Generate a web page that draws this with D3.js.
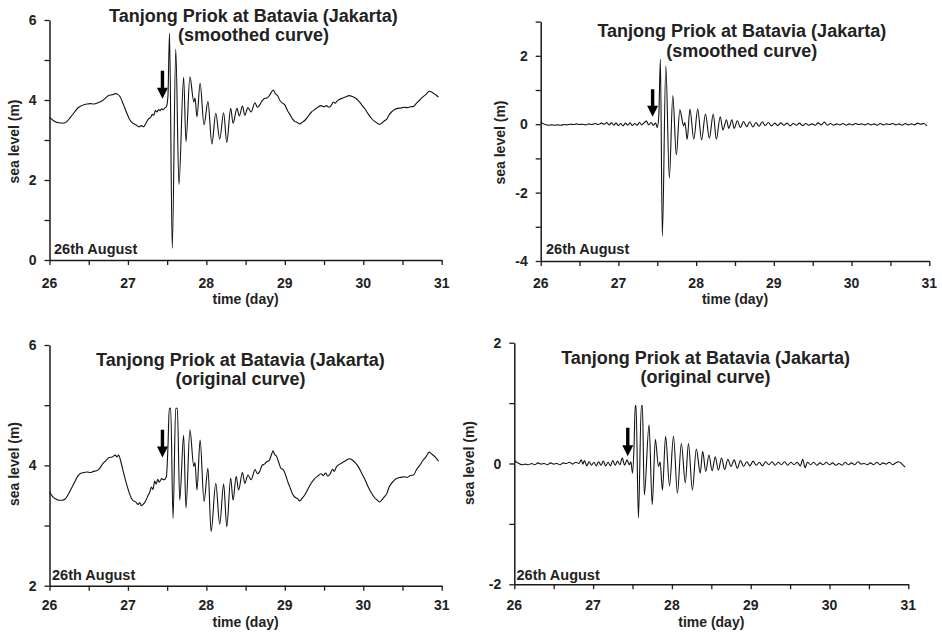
<!DOCTYPE html>
<html>
<head>
<meta charset="utf-8">
<script src="https://cdn.jsdelivr.net/npm/d3@7"></script>
<style>
  body { margin: 0; background: #fff; }
  svg text { font-family: "Liberation Sans", Arial, sans-serif; font-weight: bold; fill: #222; }
</style>
</head>
<body>
<svg id="chart" width="942" height="632"></svg>
<script>
// Tide-gauge record, Tanjong Priok (Batavia), 26–31 August: [day, sea level in m]

// Smoothed curve, absolute sea level
const smoothedLevel = [
  [26.00,3.57],[26.04,3.50],[26.08,3.45],[26.12,3.43],[26.16,3.42],[26.20,3.43],[26.24,3.50],[26.28,3.60],
  [26.32,3.70],[26.36,3.80],[26.40,3.85],[26.44,3.88],[26.48,3.90],[26.52,3.91],[26.56,3.90],[26.60,3.92],
  [26.64,3.95],[26.68,3.99],[26.72,4.06],[26.76,4.12],[26.80,4.13],[26.84,4.16],[26.87,4.14],[26.90,4.08],
  [26.94,3.90],[26.98,3.70],[27.02,3.52],[27.06,3.42],[27.10,3.38],[27.14,3.33],[27.17,3.36],[27.20,3.33],
  [27.23,3.42],[27.26,3.52],[27.29,3.57],[27.31,3.64],[27.33,3.62],[27.35,3.74],[27.37,3.70],[27.39,3.76],
  [27.41,3.73],[27.43,3.78],[27.45,3.76],[27.47,3.80],[27.49,3.83],[27.51,4.10],[27.53,5.67],[27.565,0.29],
  [27.61,5.27],[27.65,1.89],[27.71,4.57],[27.74,2.96],[27.79,4.58],[27.84,3.95],[27.855,4.05],[27.88,3.58],
  [27.92,4.42],[27.97,3.38],[28.02,3.96],[28.07,2.90],[28.12,3.67],[28.17,3.02],[28.22,3.68],[28.26,2.94],
  [28.31,3.79],[28.34,3.42],[28.39,3.79],[28.42,3.60],[28.46,3.85],[28.49,3.62],[28.53,3.81],[28.57,3.70],
  [28.62,3.93],[28.65,3.82],[28.68,3.88],[28.71,3.98],[28.74,4.04],[28.77,4.05],[28.80,4.10],[28.83,4.20],
  [28.85,4.25],[28.88,4.16],[28.91,4.10],[28.94,3.98],[28.97,3.92],[29.00,3.88],[29.03,3.75],[29.07,3.62],
  [29.10,3.52],[29.13,3.46],[29.16,3.44],[29.19,3.40],[29.22,3.44],[29.26,3.50],[29.30,3.60],[29.34,3.70],
  [29.38,3.76],[29.42,3.82],[29.46,3.86],[29.50,3.83],[29.53,3.86],[29.56,3.82],[29.59,3.86],[29.62,3.95],
  [29.64,3.92],[29.67,3.98],[29.70,4.02],[29.74,4.05],[29.78,4.08],[29.82,4.11],[29.86,4.09],[29.90,4.05],
  [29.94,3.98],[29.98,3.88],[30.02,3.78],[30.06,3.66],[30.10,3.55],[30.14,3.47],[30.18,3.42],[30.21,3.39],
  [30.24,3.43],[30.27,3.48],[30.30,3.52],[30.33,3.63],[30.36,3.70],[30.40,3.76],[30.44,3.79],[30.48,3.80],
  [30.52,3.82],[30.56,3.81],[30.60,3.83],[30.64,3.84],[30.68,3.92],[30.72,4.00],[30.76,4.08],[30.80,4.14],
  [30.84,4.22],[30.87,4.20],[30.90,4.16],[30.93,4.12],[30.96,4.07]
];

// Smoothed curve, residual after removing the tide
const smoothedResidual = [
  [26.00,0.05],[26.03,0.02],[26.06,-0.01],[26.10,-0.03],[26.14,-0.02],[26.18,-0.03],[26.22,-0.02],[26.26,-0.03],
  [26.30,-0.01],[26.34,-0.02],[26.38,0.00],[26.42,-0.01],[26.46,0.01],[26.50,-0.01],[26.54,0.00],[26.58,-0.02],
  [26.62,0.01],[26.66,-0.01],[26.70,0.02],[26.74,-0.01],[26.78,0.03],[26.82,0.00],[26.85,0.05],[26.88,-0.02],
  [26.91,0.04],[26.94,-0.03],[26.97,0.03],[27.00,-0.04],[27.03,0.02],[27.06,-0.05],[27.09,0.03],[27.12,-0.03],
  [27.15,0.04],[27.18,-0.04],[27.21,0.02],[27.24,-0.03],[27.27,0.05],[27.30,-0.02],[27.33,0.04],[27.36,0.09],
  [27.39,-0.02],[27.42,0.05],[27.45,-0.03],[27.48,0.03],[27.50,-0.10],[27.52,0.27],[27.54,1.90],[27.565,-3.27],
  [27.61,1.71],[27.655,-1.58],[27.70,0.84],[27.745,-0.90],[27.79,0.42],[27.84,-0.05],[27.855,0.05],[27.885,-0.44],
  [27.92,0.44],[27.97,-0.44],[28.02,0.44],[28.07,-0.46],[28.12,0.30],[28.17,-0.41],[28.22,0.30],[28.26,-0.44],
  [28.31,0.22],[28.345,-0.17],[28.39,0.13],[28.42,-0.12],[28.46,0.13],[28.49,-0.12],[28.53,0.10],[28.57,-0.10],
  [28.61,0.08],[28.65,-0.07],[28.69,0.07],[28.73,-0.08],[28.77,0.05],[28.81,-0.06],[28.85,0.07],[28.89,-0.04],
  [28.93,0.05],[28.97,-0.05],[29.01,0.03],[29.05,-0.04],[29.09,0.04],[29.13,-0.03],[29.17,0.03],[29.21,-0.05],
  [29.25,0.02],[29.29,-0.03],[29.33,0.03],[29.37,-0.04],[29.41,0.02],[29.45,-0.03],[29.49,0.01],[29.53,-0.03],
  [29.57,0.04],[29.61,-0.02],[29.65,0.06],[29.69,-0.03],[29.73,0.02],[29.77,-0.03],[29.81,0.01],[29.85,-0.02],
  [29.89,0.02],[29.93,-0.03],[29.97,0.01],[30.01,-0.02],[30.05,0.02],[30.09,-0.01],[30.13,0.01],[30.17,-0.02],
  [30.21,0.02],[30.25,-0.02],[30.29,0.01],[30.33,-0.03],[30.37,0.02],[30.41,-0.02],[30.45,0.01],[30.49,-0.01],
  [30.53,0.02],[30.57,-0.02],[30.61,0.01],[30.65,-0.03],[30.69,0.02],[30.73,-0.02],[30.77,0.01],[30.81,-0.02],
  [30.85,0.03],[30.89,0.00],[30.93,0.02],[30.97,-0.05]
];

// Original curve, absolute sea level (gauge tops out near 4.95 m)
const originalLevel = [
  [26.00,3.56],[26.04,3.48],[26.08,3.44],[26.12,3.42],[26.16,3.42],[26.20,3.44],[26.24,3.52],[26.28,3.62],
  [26.32,3.72],[26.36,3.82],[26.40,3.87],[26.44,3.88],[26.48,3.89],[26.52,3.88],[26.56,3.90],[26.60,3.91],
  [26.64,3.95],[26.68,4.03],[26.72,4.08],[26.76,4.13],[26.80,4.14],[26.84,4.17],[26.86,4.14],[26.88,4.17],
  [26.91,4.06],[26.94,3.90],[26.98,3.70],[27.02,3.53],[27.06,3.42],[27.10,3.39],[27.13,3.35],[27.15,3.38],
  [27.17,3.33],[27.20,3.36],[27.23,3.42],[27.26,3.51],[27.28,3.56],[27.30,3.64],[27.32,3.60],[27.34,3.74],
  [27.36,3.69],[27.38,3.77],[27.40,3.72],[27.43,3.78],[27.46,3.76],[27.49,3.81],[27.51,4.30],[27.527,4.95],
  [27.545,4.95],[27.575,3.12],[27.609,4.95],[27.63,4.95],[27.66,3.42],[27.71,4.50],[27.74,3.29],[27.79,4.59],
  [27.84,3.98],[27.855,4.05],[27.88,3.59],[27.92,4.42],[27.97,3.40],[28.02,3.95],[28.06,2.90],[28.12,3.70],
  [28.17,3.02],[28.22,3.69],[28.26,2.98],[28.31,3.79],[28.34,3.42],[28.38,3.82],[28.41,3.59],[28.46,3.88],
  [28.49,3.70],[28.53,3.84],[28.57,3.76],[28.62,3.93],[28.65,3.86],[28.68,3.90],[28.71,4.00],[28.74,4.02],
  [28.77,4.06],[28.80,4.08],[28.83,4.18],[28.85,4.24],[28.87,4.18],[28.89,4.16],[28.92,4.06],[28.95,3.95],
  [28.98,3.93],[29.01,3.84],[29.04,3.72],[29.07,3.62],[29.10,3.52],[29.13,3.47],[29.16,3.45],[29.19,3.41],
  [29.22,3.45],[29.26,3.52],[29.30,3.62],[29.34,3.71],[29.38,3.78],[29.42,3.82],[29.46,3.86],[29.49,3.83],
  [29.52,3.87],[29.55,3.82],[29.58,3.86],[29.61,3.94],[29.63,3.90],[29.66,3.98],[29.70,4.02],[29.74,4.05],
  [29.78,4.08],[29.82,4.11],[29.86,4.09],[29.90,4.04],[29.94,3.97],[29.98,3.87],[30.02,3.77],[30.06,3.65],
  [30.10,3.55],[30.14,3.47],[30.18,3.42],[30.21,3.39],[30.24,3.43],[30.27,3.48],[30.30,3.53],[30.33,3.64],
  [30.36,3.70],[30.40,3.76],[30.44,3.79],[30.48,3.80],[30.52,3.81],[30.56,3.80],[30.60,3.83],[30.64,3.84],
  [30.68,3.93],[30.72,4.00],[30.76,4.08],[30.80,4.14],[30.84,4.22],[30.87,4.19],[30.90,4.16],[30.93,4.12],
  [30.96,4.07]
];

// Original curve, residual after removing the tide
const originalResidual = [
  [26.00,0.05],[26.03,0.02],[26.06,0.00],[26.10,-0.02],[26.14,-0.01],[26.18,-0.02],[26.22,0.00],[26.26,-0.02],
  [26.30,0.01],[26.34,-0.01],[26.38,0.00],[26.42,-0.02],[26.46,0.01],[26.50,-0.01],[26.54,0.00],[26.58,-0.02],
  [26.62,0.01],[26.66,0.00],[26.70,0.02],[26.74,-0.01],[26.78,0.02],[26.82,0.00],[26.85,0.06],[26.87,-0.01],
  [26.89,0.05],[26.92,-0.04],[26.95,0.03],[26.98,-0.03],[27.01,0.02],[27.04,-0.04],[27.07,0.03],[27.10,-0.03],
  [27.13,0.04],[27.16,-0.04],[27.19,0.02],[27.22,-0.04],[27.25,0.05],[27.28,-0.03],[27.31,0.04],[27.34,-0.02],
  [27.37,0.09],[27.40,-0.03],[27.43,0.06],[27.46,-0.02],[27.48,0.03],[27.50,-0.16],[27.52,0.30],[27.535,0.96],
  [27.545,0.96],[27.575,-0.90],[27.612,0.96],[27.625,0.96],[27.65,-0.52],[27.71,0.64],[27.75,-0.68],[27.79,0.40],
  [27.83,-0.05],[27.85,0.03],[27.88,-0.44],[27.92,0.45],[27.97,-0.37],[28.02,0.45],[28.07,-0.49],[28.12,0.33],
  [28.17,-0.32],[28.21,0.33],[28.26,-0.44],[28.31,0.24],[28.36,-0.16],[28.39,0.20],[28.43,-0.13],[28.47,0.14],
  [28.51,-0.12],[28.55,0.11],[28.59,-0.11],[28.63,0.09],[28.67,-0.10],[28.71,0.07],[28.75,-0.05],[28.79,0.06],
  [28.83,-0.08],[28.87,0.05],[28.91,-0.05],[28.95,0.03],[28.99,-0.04],[29.03,0.04],[29.07,-0.03],[29.11,0.02],
  [29.15,-0.04],[29.19,0.03],[29.23,-0.02],[29.27,0.03],[29.31,-0.03],[29.35,0.02],[29.39,-0.02],[29.43,0.03],
  [29.47,-0.03],[29.51,0.02],[29.55,-0.02],[29.59,0.02],[29.63,-0.04],[29.66,0.07],[29.69,-0.07],[29.72,0.02],
  [29.76,-0.02],[29.80,0.02],[29.84,-0.03],[29.88,0.01],[29.92,-0.02],[29.96,0.02],[30.00,-0.02],[30.04,0.01],
  [30.08,-0.03],[30.12,0.00],[30.16,-0.03],[30.20,0.02],[30.24,-0.02],[30.28,0.01],[30.32,-0.02],[30.36,0.03],
  [30.40,-0.01],[30.44,0.00],[30.48,-0.02],[30.52,0.01],[30.56,-0.02],[30.60,0.02],[30.64,-0.02],[30.68,0.01],
  [30.72,-0.01],[30.76,0.02],[30.80,-0.02],[30.84,0.01],[30.88,0.03],[30.92,-0.01],[30.96,-0.06]
];

// Axis ticks and labels
const dayTicks = [26, 26.5, 27, 27.5, 28, 28.5, 29, 29.5, 30, 30.5, 31];
const dayLabels = [26, 27, 28, 29, 30, 31];
const stationTitle = "Tanjong Priok at Batavia (Jakarta)";
const curveNames = ["(smoothed curve)", "(original curve)"];
const startLabel = "26th August";
const xTitle = "time (day)";
const yTitle = "sea level (m)";
const eruptionDay = 27.44;   // time marked by the arrow

// Panel layouts
const panels = [
  { data: smoothedLevel, sub: curveNames[0],
    x0: 49.5, x1: 441.7, yDom: [0, 6], yRange: [260, 20],
    yTicks: [0, 1, 2, 3, 4, 5, 6], yLabels: [0, 2, 4, 6],
    titleX: 253.5, titleY: 21.5, startX: 54, startY: 253.5,
    tickLabelY: 287.5, xTitleY: 303.5, yTitleX: 13.5, yTitleY: 141.5,
    arrow: [4.73, 4.03] },
  { data: smoothedResidual, sub: curveNames[0],
    x0: 540.7, x1: 929.3, yDom: [-4, 3], yRange: [261, 21.6],
    yTicks: [-4, -3, -2, -1, 0, 1, 2, 3], yLabels: [-4, -2, 0, 2],
    titleX: 741.8, titleY: 37, startX: 546, startY: 254,
    tickLabelY: 287.5, xTitleY: 303.5, yTitleX: 500, yTitleY: 142.5,
    arrow: [1.02, 0.22] },
  { data: originalLevel, sub: curveNames[1],
    x0: 49.5, x1: 441.7, yDom: [2, 6], yRange: [585.7, 345],
    yTicks: [2, 3, 4, 5, 6], yLabels: [2, 4, 6],
    titleX: 240.5, titleY: 365.5, startX: 52, startY: 579.5,
    tickLabelY: 610, xTitleY: 627, yTitleX: 13.5, yTitleY: 464,
    arrow: [4.59, 4.13] },
  { data: originalResidual, sub: curveNames[1],
    x0: 514.3, x1: 908.3, yDom: [-2, 2], yRange: [584.3, 342.7],
    yTicks: [-2, -1, 0, 1, 2], yLabels: [-2, 0, 2],
    titleX: 705.6, titleY: 363.5, startX: 516.5, startY: 579.5,
    tickLabelY: 610, xTitleY: 626.5, yTitleX: 468.5, yTitleY: 463,
    arrow: [0.59, 0.12] }
];

const svg = d3.select("#chart");
const ink = "#1a1a1a";

panels.forEach(p => {
  const x = d3.scaleLinear().domain([26, 31]).range([p.x0, p.x1]);
  const y = d3.scaleLinear().domain(p.yDom).range(p.yRange);
  const g = svg.append("g");
  const yBase = p.yRange[0];

  // x axis
  const xa = g.append("g").attr("transform", `translate(0,${yBase})`)
    .call(d3.axisBottom(x).tickValues(dayTicks).tickSize(5).tickSizeOuter(0).tickFormat(() => ""));
  xa.select(".domain").attr("stroke", ink).attr("stroke-width", 1.5);
  xa.selectAll(".tick line").attr("stroke", ink).attr("stroke-width", 1.3);
  g.selectAll(null).data(dayLabels).join("text")
    .attr("x", d => x(d)).attr("y", p.tickLabelY)
    .attr("text-anchor", "middle").style("font-size", "14px").text(d => d);

  // y axis
  const ya = g.append("g").attr("transform", `translate(${p.x0},0)`)
    .call(d3.axisLeft(y).tickValues(p.yTicks).tickSize(5).tickSizeOuter(0).tickFormat(() => ""));
  ya.select(".domain").attr("stroke", ink).attr("stroke-width", 1.5);
  ya.selectAll(".tick line").attr("stroke", ink).attr("stroke-width", 1.3);
  g.selectAll(null).data(p.yLabels).join("text")
    .attr("x", p.x0 - 13).attr("y", d => y(d) + 5)
    .attr("text-anchor", "end").style("font-size", "14px").text(d => d);

  // axis titles
  g.append("text").attr("x", (p.x0 + p.x1) / 2).attr("y", p.xTitleY)
    .attr("text-anchor", "middle").style("font-size", "14px").text(xTitle);
  g.append("text")
    .attr("transform", `translate(${p.yTitleX + 5},${p.yTitleY}) rotate(-90)`)
    .attr("text-anchor", "middle").style("font-size", "14px").text(yTitle);

  // titles
  g.append("text").attr("x", p.titleX).attr("y", p.titleY)
    .attr("text-anchor", "middle").style("font-size", "18px").text(stationTitle);
  g.append("text").attr("x", p.titleX).attr("y", p.titleY + 19.5)
    .attr("text-anchor", "middle").style("font-size", "18px").text(p.sub);

  g.append("text").attr("x", p.startX).attr("y", p.startY)
    .style("font-size", "14.5px").text(startLabel);

  // sea-level curve
  const line = d3.line().x(d => x(d[0])).y(d => y(d[1])).curve(d3.curveMonotoneX);
  g.append("path").datum(p.data).attr("d", line)
    .attr("fill", "none").attr("stroke", "#111").attr("stroke-width", 1.1)
    .attr("stroke-linejoin", "round");

  // arrow marking the eruption time
  const ax = x(eruptionDay), top = y(p.arrow[0]), tip = y(p.arrow[1]);
  const headH = 11, headW = 5.5, shaftW = 1.7;
  g.append("path")
    .attr("d", `M${ax - shaftW},${top} L${ax + shaftW},${top} L${ax + shaftW},${tip - headH}
                L${ax + headW},${tip - headH} L${ax},${tip} L${ax - headW},${tip - headH}
                L${ax - shaftW},${tip - headH} Z`)
    .attr("fill", "#000");
});
</script>
</body>
</html>
